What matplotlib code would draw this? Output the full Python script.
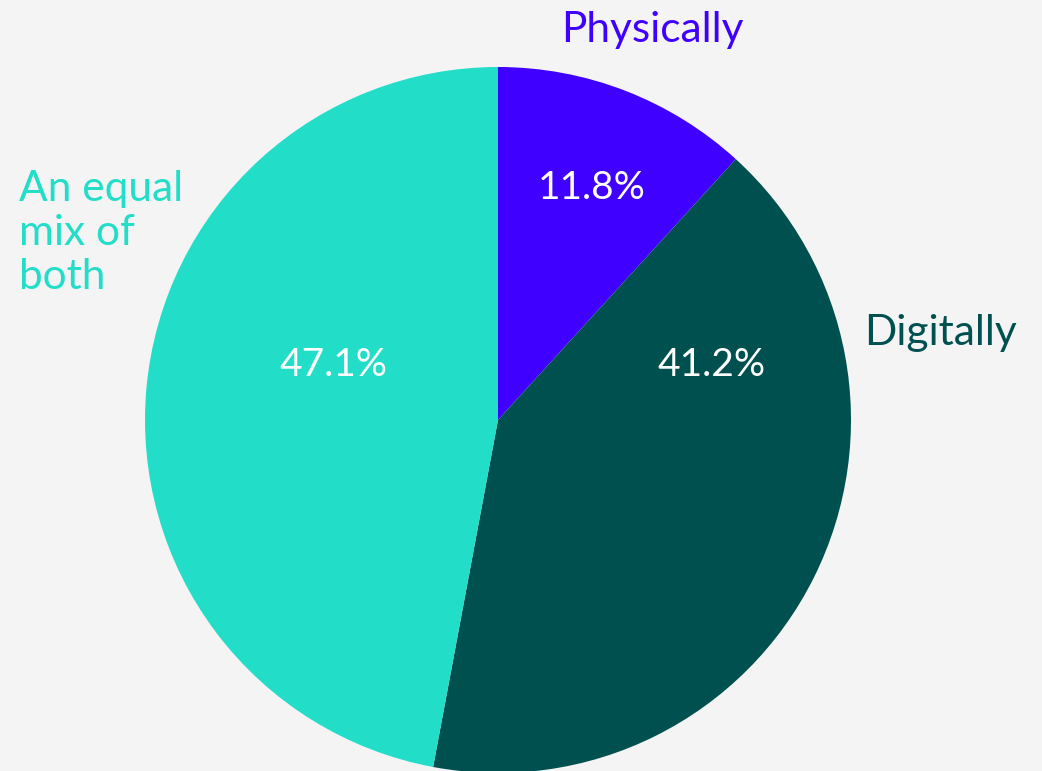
import numpy as np
import matplotlib.pyplot as plt

# survey answers (counts out of 17)
categories = ['Physically', 'Digitally', 'An equal\nmix of\nboth']
counts = [2, 7, 8]
colors = ['#4000ff', '#005050', '#22ddc8']
pct_labels = ['11.8%', '41.2%', '47.1%']

plt.rcParams['font.family'] = ['Lato', 'DejaVu Sans']

W, H = 1042, 771
fig = plt.figure(figsize=(W / 100, H / 100), dpi=100, facecolor='#f4f4f4')
ax = fig.add_axes([0, 0, 1, 1])
ax.set_facecolor('#f4f4f4')

cx, cy, r = 498, H - 420, 353
ax.pie(counts, colors=colors, startangle=90, counterclock=False,
       center=(cx, cy), radius=r, wedgeprops=dict(linewidth=0))
ax.set_xlim(0, W)
ax.set_ylim(0, H)
ax.set_aspect('equal')
ax.axis('off')

# percentage labels inside the slices
pct_pos = [(592, 188), (712, 365), (333, 365)]
for (px, py), t in zip(pct_pos, pct_labels):
    ax.text(px, H - py, t, color='white', fontsize=28, ha='center', va='center')

# category labels outside
ax.text(652, H - 30, categories[0], color=colors[0], fontsize=30.5, ha='center', va='center')
ax.text(864, H - 333, categories[1], color=colors[1], fontsize=30.5, ha='left', va='center')
ax.text(19, H - 233, categories[2], color=colors[2], fontsize=30.5, ha='left', va='center',
        linespacing=1.2)

fig.savefig('out.png', dpi=100, facecolor=fig.get_facecolor())
